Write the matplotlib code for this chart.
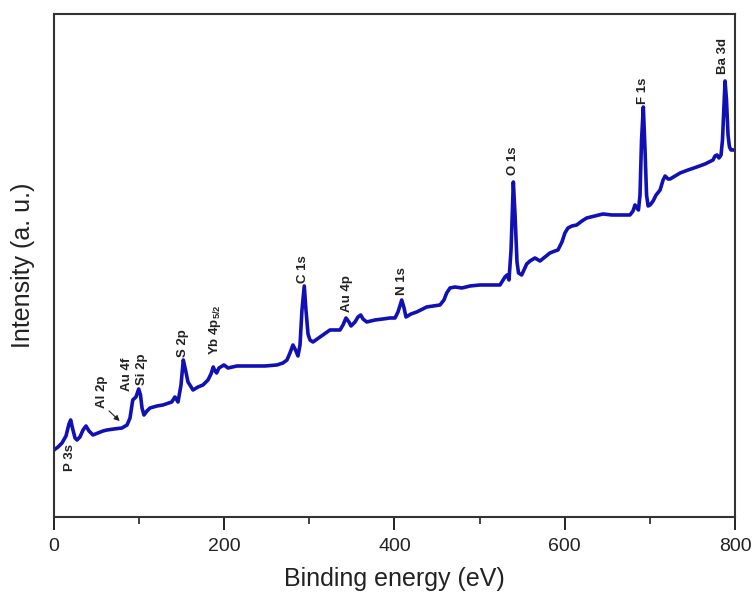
import matplotlib
matplotlib.use('Agg')
import matplotlib.pyplot as plt

plt.rcParams['font.family'] = ['Liberation Sans', 'DejaVu Sans']
plt.rcParams['mathtext.default'] = 'regular'

# XPS survey spectrum (binding energy in eV, intensity in arbitrary units)
energy = [0.0, 4.7, 9.4, 14.1, 17.6, 19.6, 21.7, 24.7, 27.0, 30.5, 34.1, 37.6,
          41.1, 45.8, 51.7, 57.6, 62.3, 70.5, 79.9, 85.8, 89.3, 92.5, 96.3,
          99.5, 101.6, 103.4, 105.7, 109.2, 112.8, 121.0, 128.0, 138.3, 142.1,
          145.7, 149.2, 151.9, 154.5, 157.4, 163.3, 169.2, 175.0, 180.9, 184.4,
          187.1, 189.1, 191.1, 193.8, 199.7, 204.4, 215.0, 230.2, 247.8, 261.9,
          269.0, 273.7, 277.2, 280.7, 283.7, 286.6, 289.0, 291.3, 294.0, 296.0,
          298.4, 300.7, 304.2, 312.5, 324.2, 336.0, 339.5, 343.0, 346.5, 348.9,
          353.6, 357.1, 360.3, 363.0, 367.4, 377.1, 386.5, 394.7, 400.6, 404.1,
          408.5, 411.2, 413.5, 419.4, 426.1, 437.8, 445.2, 453.4, 458.1, 461.3,
          465.2, 471.0, 479.2, 488.7, 500.4, 512.2, 523.9, 529.8, 532.2, 534.5,
          536.9, 539.6, 541.6, 543.9, 545.7, 549.4, 552.1, 555.3, 559.2, 565.0,
          570.9, 576.7, 582.6, 588.5, 592.0, 596.7, 600.2, 603.8, 608.5, 614.0,
          620.2, 625.8, 635.5, 644.9, 655.5, 664.9, 676.6, 680.2, 682.5, 684.8,
          686.6, 688.4, 690.2, 692.3, 694.3, 696.1, 697.9, 700.2, 703.8, 707.3,
          712.0, 715.5, 717.9, 721.4, 723.8, 729.6, 735.5, 744.9, 755.1, 764.8,
          774.2, 776.5, 778.9, 781.2, 783.6, 785.3, 787.1, 788.3, 790.0, 791.8,
          793.5, 795.3, 797.6]
intensity = [67, 70, 74, 81, 93, 97, 89, 79, 77, 80, 87, 91,
             86, 82, 84, 86, 87, 88, 89, 92, 99, 117, 120,
             128, 122, 109, 102, 106, 109, 111, 112, 115, 120,
             115, 132, 157, 147, 135, 127, 130, 132, 137, 143,
             150, 146, 144, 149, 152, 149, 151, 151, 151, 152,
             154, 157, 164, 172, 167, 161, 172, 207, 231, 207,
             183, 177, 175, 180, 187, 187, 192, 199, 195, 191,
             195, 200, 202, 198, 195, 197, 198, 199, 199, 205,
             217, 209, 200, 203, 205, 210, 211, 212, 217, 224,
             229, 230, 229, 231, 232, 232, 232, 240, 242, 237,
             267, 335, 302, 255, 244, 242, 247, 253, 256, 259,
             256, 260, 264, 266, 267, 275, 284, 289, 291, 292,
             296, 299, 301, 303, 302, 302, 302, 306, 312, 309,
             307, 322, 377, 410, 367, 322, 311, 312, 316, 322,
             327, 337, 341, 338, 338, 341, 344, 347, 350, 353,
             357, 361, 362, 359, 362, 377, 412, 436, 417, 382,
             370, 367, 367]

# peak assignments: label text, energy, intensity of label centre
peak_labels = ['P 3s', 'Al 2p', 'Au 4f', 'Si 2p', 'S 2p', r'Yb 4p$_{5/2}$',
               'C 1s', 'Au 4p', 'N 1s', 'O 1s', 'F 1s', 'Ba 3d']
label_x = [18.8, 56.0, 85.8, 103.0, 151.5, 189.0,
           292.5, 343.8, 408.5, 539.2, 691.9, 785.9]
label_y = [59, 125, 143, 148, 173.5, 187.5,
           248, 223.5, 235.5, 356, 426.5, 460.5]

fig = plt.figure(figsize=(7.52, 5.93), dpi=100)
ax = fig.add_axes([0.0718, 0.1282, 0.9056, 0.8482])

ax.plot(energy, intensity, color='#1010b4', lw=2.6, solid_joinstyle='round')

for lab, xx, yy in zip(peak_labels, label_x, label_y):
    ax.text(xx, yy, lab, rotation=90, ha='center', va='center',
            fontsize=9.5, fontweight='bold', color='#222222')

# Al 2p sits on the slope, point at it with an arrow
ax.annotate('', xy=(79.5, 94), xytext=(62.3, 108),
            arrowprops=dict(arrowstyle='-|>', color='#222222', lw=0.8,
                            mutation_scale=8))

ax.set_xlim(0, 800)
ax.set_ylim(0, 503)
ax.set_xticks([0, 200, 400, 600, 800])
ax.set_xticks([100, 300, 500, 700], minor=True)
ax.set_yticks([])
ax.tick_params(axis='x', which='major', direction='out', length=9, width=1.4,
               labelsize=14, colors='#222222', pad=6)
ax.tick_params(axis='x', which='minor', direction='out', length=5, width=1.2,
               colors='#222222')
for sp in ax.spines.values():
    sp.set_linewidth(1.5)
    sp.set_color('#333333')

ax.set_xlabel('Binding energy (eV)', fontsize=18, color='#222222', labelpad=9)
ax.set_ylabel('Intensity (a. u.)', fontsize=18, color='#222222', labelpad=14)

fig.savefig('out.png', dpi=100)
